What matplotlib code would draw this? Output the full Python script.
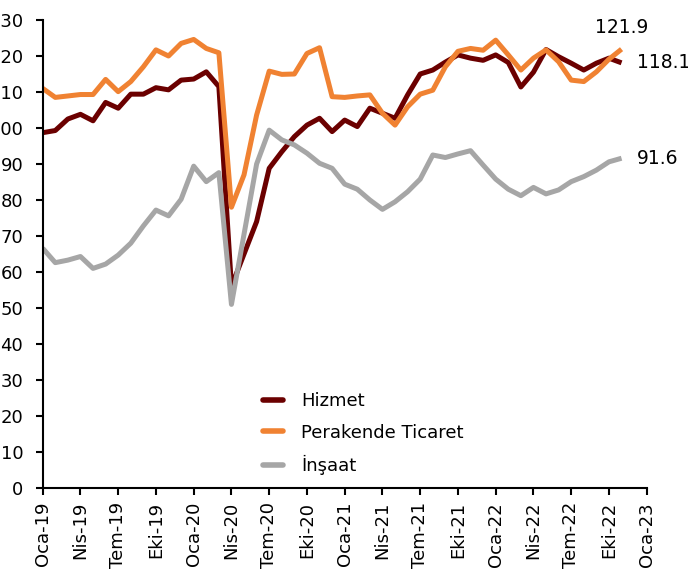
import matplotlib
matplotlib.use("Agg")
import matplotlib.pyplot as plt

months = ["Oca", "Şub", "Mar", "Nis", "May", "Haz", "Tem", "Ağu", "Eyl", "Eki", "Kas", "Ara"]
tick_months = ["Oca", "Nis", "Tem", "Eki"]
years = ["19", "20", "21", "22", "23"]

hizmet = [98.7, 99.3, 102.5, 103.8, 102.0, 107.1, 105.5, 109.4, 109.4, 111.2, 110.6, 113.3,
          113.6, 115.6, 111.5, 56.0, 65.0, 74.0, 88.8, 93.4, 97.6, 100.8, 102.7, 99.0,
          102.2, 100.4, 105.5, 104.1, 102.7, 109.2, 115.0, 116.1, 118.3, 120.3, 119.4, 118.8,
          120.3, 118.2, 111.4, 115.5, 121.8, 119.8, 118.0, 116.1, 118.0, 119.4, 118.1]
perakende = [111.0, 108.5, 108.9, 109.3, 109.3, 113.5, 110.1, 112.9, 117.0, 121.7, 120.0, 123.5,
             124.6, 122.1, 120.9, 78.0, 87.0, 103.6, 115.8, 114.9, 115.0, 120.7, 122.3, 108.7,
             108.5, 108.9, 109.2, 104.1, 100.8, 105.9, 109.4, 110.5, 117.0, 121.3, 122.1, 121.6,
             124.4, 120.3, 116.1, 119.4, 121.7, 118.4, 113.3, 112.9, 115.6, 119.1, 121.9]
insaat = [66.6, 62.6, 63.3, 64.3, 61.0, 62.2, 64.7, 68.0, 72.8, 77.2, 75.6, 80.2,
          89.4, 85.1, 87.6, 51.0, 70.5, 90.0, 99.4, 96.7, 95.3, 93.0, 90.2, 88.8,
          84.4, 83.0, 80.0, 77.4, 79.5, 82.3, 85.8, 92.5, 91.8, 92.8, 93.7, 89.7,
          85.8, 83.0, 81.2, 83.5, 81.7, 82.8, 85.1, 86.5, 88.3, 90.6, 91.6]

names = ["Hizmet", "Perakende Ticaret", "İnşaat"]
colors = ["#6B0000", "#F08232", "#A6A6A6"]

plt.rcParams['font.family'] = ['DejaVu Sans']
plt.rcParams['font.size'] = 13

fig = plt.figure(figsize=(6.88, 5.75), dpi=100)
ax = fig.add_axes([42.7 / 688, 87 / 575, 604 / 688, 468 / 575])

x = list(range(len(hizmet)))
for vals, name, c in zip([hizmet, perakende, insaat], names, colors):
    ax.plot(x, vals, color=c, lw=3.6, label=name, solid_capstyle='butt')

ax.set_xlim(0, 48)
ax.set_ylim(0, 130)
ax.set_yticks(range(0, 131, 10))

xt = list(range(0, 49, 3))
xl = [tick_months[(i // 3) % 4] + "-" + years[i // 12] for i in xt]
ax.set_xticks(xt)
ax.set_xticklabels(xl, rotation=90)

for s in ["top", "right"]:
    ax.spines[s].set_visible(False)
for s in ["left", "bottom"]:
    ax.spines[s].set_linewidth(1.5)
ax.tick_params(axis='y', direction='out', length=5, width=1.5, pad=9, labelsize=13)
ax.tick_params(axis='x', direction='out', length=5, width=1.5, pad=5, labelsize=13)

last = len(hizmet) - 1
ax.annotate(f"{perakende[-1]:.1f}", (last, perakende[-1]), xytext=(0, 9),
            textcoords='offset points', ha='center', va='bottom', fontsize=13.5)
ax.annotate(f"{hizmet[-1]:.1f}", (last, hizmet[-1]), xytext=(11, 0),
            textcoords='offset points', ha='left', va='center', fontsize=13.5)
ax.annotate(f"{insaat[-1]:.1f}", (last, insaat[-1]), xytext=(11, 0),
            textcoords='offset points', ha='left', va='center', fontsize=13.5)

leg = ax.legend(loc='upper left', bbox_to_anchor=(263 / 688, 1 - 392 / 575),
                bbox_transform=fig.transFigure, frameon=False, fontsize=13,
                handlelength=1.1, handletextpad=1.0, labelspacing=0.75,
                borderpad=0, borderaxespad=0)
for h in leg.get_lines():
    h.set_linewidth(4)
    h.set_solid_capstyle('round')

fig.savefig("out.png", dpi=100)
